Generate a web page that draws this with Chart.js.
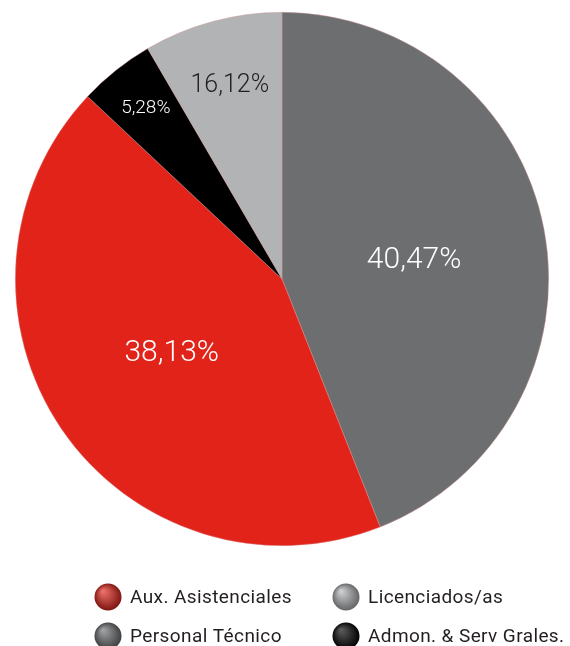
<!DOCTYPE html>
<html>
<head>
<meta charset="utf-8">
<script src="https://cdn.jsdelivr.net/npm/chart.js@4/dist/chart.umd.min.js"></script>
<style>
  html, body { margin: 0; padding: 0; background: #fff; }
  #wrap { position: relative; width: 570px; height: 646px; }
</style>
</head>
<body>
<div id="wrap"><canvas id="pie"></canvas></div>
<script>
// Data (slice sizes as drawn, labels as printed)
const categories = ['Personal Técnico', 'Aux. Asistenciales', 'Admon. & Serv Grales.', 'Licenciados/as'];
const sliceValues = [44.0, 43.0, 4.6, 8.4];
const percentLabels = ['40,47%', '38,13%', '5,28%', '16,12%'];
const legendOrder = [1, 3, 0, 2];

const sliceColors = ['#6d6e70', '#e2231a', '#000000', '#b1b3b5'];
// frac = share of radius, shift = degrees off the slice middle
const labelStyle = [
    { color: '#ffffff', size: 30, frac: 0.50, shift: 3 },
    { color: '#ffffff', size: 30, frac: 0.50, shift: 0 },
    { color: '#ffffff', size: 19, frac: 0.82, shift: 0 },
    { color: '#231f20', size: 25, frac: 0.75, shift: 0 }
];
const FONT = 'Roboto, "Liberation Sans", sans-serif';

/**
 * Percent labels drawn inside each slice
 */
const sliceLabels = {
    id: 'sliceLabels',
    afterDatasetsDraw(chart) {
        const ctx = chart.ctx;
        const arcs = chart.getDatasetMeta(0).data;
        ctx.save();
        ctx.textAlign = 'center';
        ctx.textBaseline = 'middle';
        arcs.forEach((arc, i) => {
            const p = arc.getProps(['x', 'y', 'startAngle', 'endAngle', 'outerRadius'], true);
            const mid = (p.startAngle + p.endAngle) / 2 + labelStyle[i].shift * Math.PI / 180;
            const r = p.outerRadius * labelStyle[i].frac;
            ctx.fillStyle = labelStyle[i].color;
            ctx.font = '300 ' + labelStyle[i].size + 'px ' + FONT;
            ctx.fillText(percentLabels[i], p.x + Math.cos(mid) * r, p.y + Math.sin(mid) * r);
        });
        ctx.restore();
    }
};

/**
 * Two column legend with shaded dots
 */
const dotLegend = {
    id: 'dotLegend',
    afterDraw(chart) {
        const ctx = chart.ctx;
        const cols = [108, 346];
        const rows = [597, 636];
        ctx.save();
        legendOrder.forEach((idx, n) => {
            const cx = cols[n % 2];
            const cy = rows[Math.floor(n / 2)];
            const g = ctx.createRadialGradient(cx - 5, cy - 6, 1, cx, cy, 14);
            g.addColorStop(0, shade(sliceColors[idx], 0.35));
            g.addColorStop(1, shade(sliceColors[idx], -0.45));
            ctx.beginPath();
            ctx.arc(cx, cy, 13.5, 0, Math.PI * 2);
            ctx.fillStyle = g;
            ctx.fill();

            ctx.fillStyle = '#231f20';
            ctx.font = '19px ' + FONT;
            ctx.letterSpacing = '0.4px';
            ctx.textAlign = 'left';
            ctx.textBaseline = 'middle';
            ctx.fillText(categories[idx], cx + 22, cy + 1);
        });
        ctx.restore();
    }
};

function shade(hex, amt) {
    const n = parseInt(hex.slice(1), 16);
    let c = [(n >> 16) & 255, (n >> 8) & 255, n & 255];
    c = c.map(v => amt > 0 ? Math.round(v + (255 - v) * amt) : Math.round(v * (1 + amt)));
    return 'rgb(' + c.join(',') + ')';
}

new Chart(document.getElementById('pie'), {
    type: 'pie',
    data: {
        labels: categories,
        datasets: [{
            data: sliceValues,
            backgroundColor: sliceColors,
            borderColor: 'rgba(214,150,150,0.7)',
            borderWidth: 0.6
        }]
    },
    options: {
        responsive: true,
        maintainAspectRatio: false,
        animation: false,
        layout: { padding: { left: 15, right: 21, top: 12, bottom: 100 } },
        plugins: {
            legend: { display: false },
            tooltip: { enabled: false }
        }
    },
    plugins: [sliceLabels, dotLegend]
});
</script>
</body>
</html>
